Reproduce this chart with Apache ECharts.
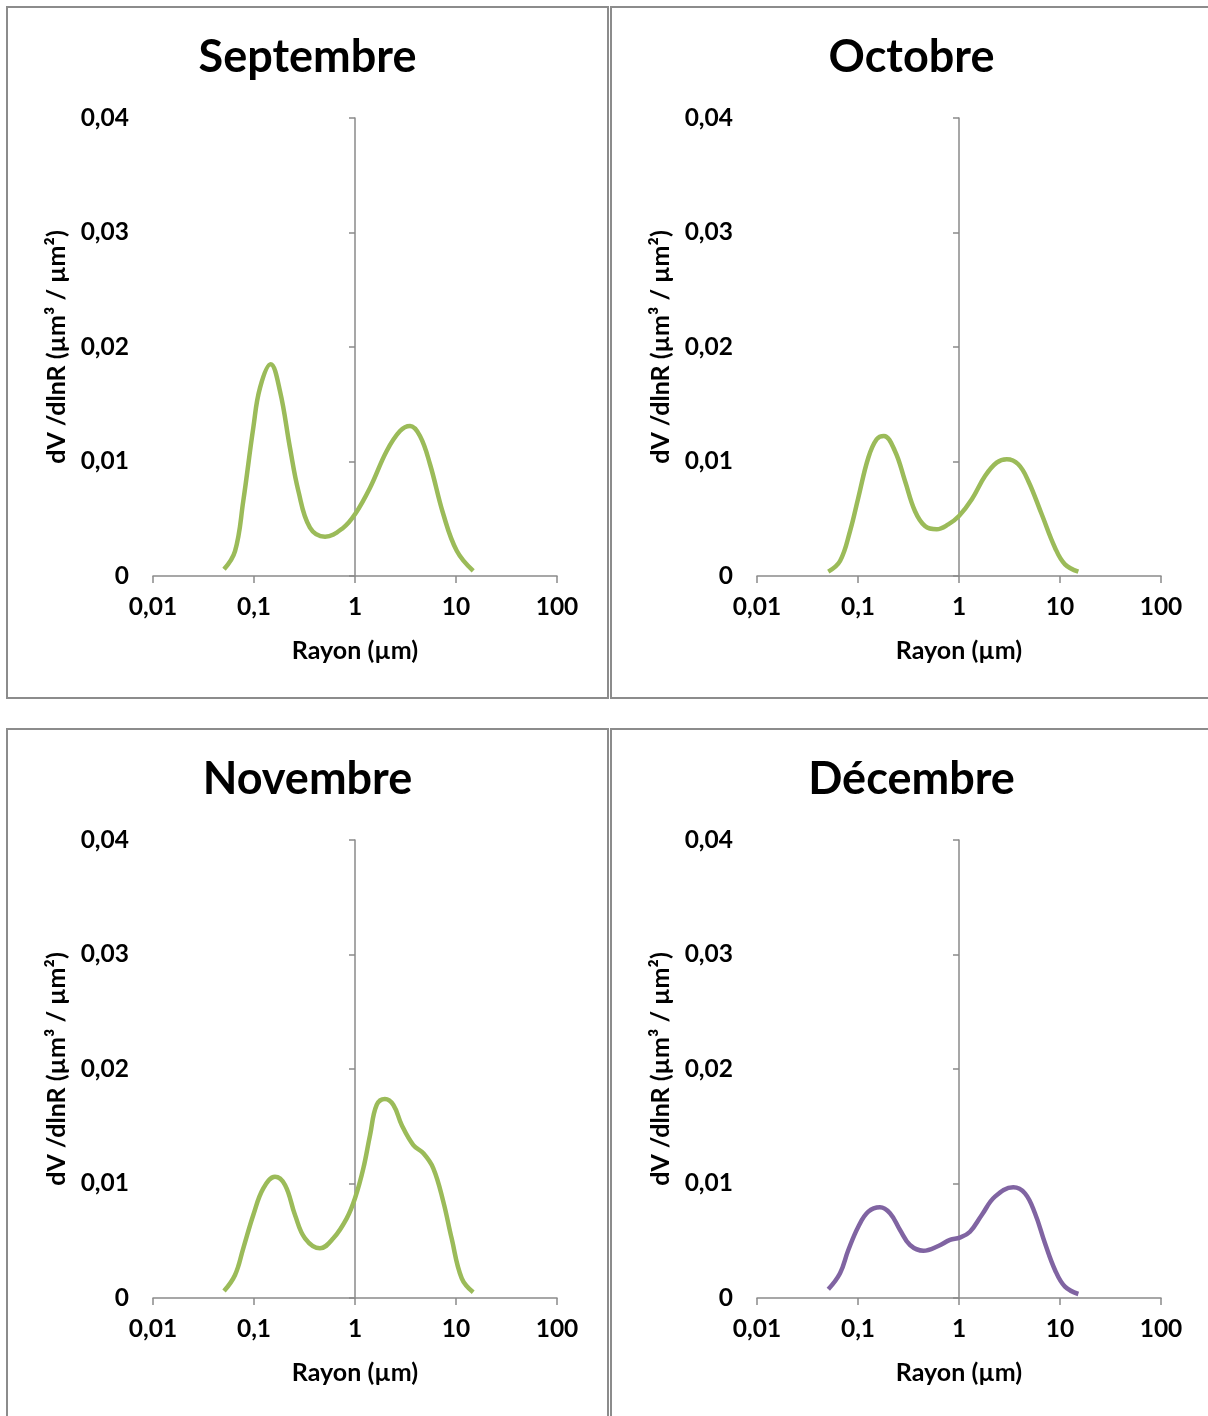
<!DOCTYPE html>
<html>
<head>
<meta charset="utf-8">
<script src="https://cdn.jsdelivr.net/npm/echarts@6/dist/echarts.min.js"></script>
<style>
  html, body { margin: 0; padding: 0; background: #fff; width: 1208px; height: 1416px; overflow: hidden; }
  .panel { position: absolute; box-sizing: border-box; border: 2px solid #8c8c8c; background: #fff; }
</style>
</head>
<body>
<div id="p0" class="panel" style="left:6px;top:6px;width:603px;height:693px;"></div>
<div id="p1" class="panel" style="left:610px;top:6px;width:603px;height:693px;"></div>
<div id="p2" class="panel" style="left:6px;top:728px;width:603px;height:693px;"></div>
<div id="p3" class="panel" style="left:610px;top:728px;width:603px;height:693px;"></div>
<script>
// ---- data ----
const titles = ['Septembre', 'Octobre', 'Novembre', 'Décembre'];
const xTickLabels = ['0,01', '0,1', '1', '10', '100'];
const yTickLabels = ['0', '0,01', '0,02', '0,03', '0,04'];
const xAxisName = 'Rayon (µm)';
const yAxisName = 'dV /dlnR (µm³ / µm²)';

const radiusSep = [0.0505, 0.0649, 0.0783, 0.0984, 0.1148, 0.1462, 0.1807, 0.227, 0.275, 0.358, 0.505, 0.766, 1.0, 1.409, 2.06, 2.79, 3.51, 4.40, 5.53, 7.49, 10.2, 14.8];
const valueSep  = [0.00059, 0.00218, 0.00655, 0.01295, 0.01645, 0.01849, 0.01616, 0.0112, 0.00742, 0.00422, 0.00343, 0.00422, 0.00539, 0.00771, 0.01092, 0.01266, 0.0131, 0.01223, 0.00976, 0.00539, 0.00218, 0.00044];

const radiusOct = [0.0508, 0.0664, 0.0834, 0.1007, 0.1265, 0.153, 0.1807, 0.232, 0.292, 0.366, 0.46, 0.601, 0.784, 1.0, 1.34, 1.81, 2.36, 2.97, 3.86, 4.85, 6.59, 8.92, 11.2, 15.2];
const valueOct  = [0.00038, 0.00131, 0.00393, 0.00684, 0.01033, 0.01194, 0.01223, 0.01092, 0.0083, 0.00568, 0.00437, 0.00408, 0.00451, 0.00524, 0.0067, 0.00873, 0.0099, 0.01019, 0.00976, 0.0083, 0.00539, 0.00247, 0.00102, 0.00038];

const radiusNov = [0.0505, 0.0649, 0.0783, 0.0984, 0.1236, 0.1614, 0.2028, 0.2547, 0.32, 0.45, 0.61, 0.828, 1.0, 1.21, 1.41, 1.64, 1.98, 2.40, 2.90, 3.78, 4.75, 5.96, 7.49, 9.05, 11.4, 14.8];
const valueNov  = [0.00061, 0.00201, 0.00434, 0.00725, 0.00958, 0.01059, 0.00987, 0.00725, 0.00521, 0.00434, 0.00521, 0.00696, 0.00871, 0.01133, 0.01424, 0.01686, 0.01738, 0.01686, 0.01511, 0.01336, 0.01264, 0.01133, 0.00841, 0.00521, 0.00172, 0.0005];

const radiusDec = [0.0508, 0.0664, 0.0802, 0.1007, 0.1265, 0.165, 0.2075, 0.2606, 0.327, 0.444, 0.624, 0.814, 1.02, 1.285, 1.68, 2.27, 3.45, 4.50, 5.65, 7.10, 8.92, 11.2, 15.2];
const valueDec  = [0.00076, 0.00216, 0.00419, 0.00623, 0.00754, 0.00792, 0.0074, 0.00594, 0.00463, 0.00413, 0.00454, 0.00507, 0.00527, 0.00579, 0.00725, 0.00885, 0.00967, 0.00914, 0.0074, 0.00478, 0.00245, 0.00099, 0.00035];

const radii = [radiusSep, radiusOct, radiusNov, radiusDec];
const values = [valueSep, valueOct, valueNov, valueDec];
const colors = ['#9BBB59', '#9BBB59', '#9BBB59', '#8064A2'];

// ---- style ----
const FONT = 'Lato, "Open Sans", sans-serif';
const AXIS_COLOR = '#8a8a8a';
const GRID = { left: 145, top: 110, width: 404, height: 458 };

function fmtX(v) {
  const idx = Math.round(Math.log10(v)) + 2;
  return xTickLabels[idx] !== undefined ? xTickLabels[idx] : String(v);
}
function fmtY(v) {
  const idx = Math.round(v / 0.01);
  return yTickLabels[idx] !== undefined ? yTickLabels[idx] : String(v);
}

titles.forEach(function (t, i) {
  const chart = echarts.init(document.getElementById('p' + i), null, { renderer: 'canvas' });
  const data = radii[i].map(function (r, k) { return [r, values[i][k]]; });
  const labelStyle = { color: '#000', fontFamily: FONT, fontWeight: 'bold', fontSize: 24.5 };
  chart.setOption({
    animation: false,
    title: {
      text: t, left: 'center', top: 22,
      textStyle: { color: '#000', fontFamily: FONT, fontWeight: 'bold', fontSize: 45 }
    },
    grid: GRID,
    xAxis: {
      type: 'log', logBase: 10, min: 0.01, max: 100,
      name: xAxisName, nameLocation: 'middle', nameGap: 62,
      nameTextStyle: { color: '#000', fontFamily: FONT, fontWeight: 'bold', fontSize: 25 },
      axisLine: { show: true, onZero: false, lineStyle: { color: AXIS_COLOR, width: 1.5 } },
      axisTick: { show: true, length: 7, lineStyle: { color: AXIS_COLOR, width: 1.5 } },
      minorTick: { show: false },
      splitLine: { show: false },
      axisLabel: Object.assign({ margin: 19, formatter: fmtX }, labelStyle)
    },
    yAxis: [{
      type: 'value', min: 0, max: 0.04, interval: 0.01, position: 'left',
      name: yAxisName, nameLocation: 'middle', nameGap: 80, nameRotate: 90,
      nameTextStyle: { color: '#000', fontFamily: FONT, fontWeight: 'bold', fontSize: 25 },
      axisLine: { show: false }, axisTick: { show: false }, splitLine: { show: false },
      axisLabel: Object.assign({ margin: 24, formatter: fmtY }, labelStyle)
    }, {
      // y axis line crossing the x axis at radius = 1
      type: 'value', min: 0, max: 0.04, interval: 0.01, position: 'left',
      offset: -GRID.width * (Math.log10(1) - Math.log10(0.01)) / (Math.log10(100) - Math.log10(0.01)),
      axisLine: { show: true, onZero: false, lineStyle: { color: AXIS_COLOR, width: 1.5 } },
      axisTick: { show: true, inside: false, length: 6, lineStyle: { color: AXIS_COLOR, width: 1.5 } },
      axisLabel: { show: false }, splitLine: { show: false }
    }],
    series: [{
      type: 'line', data: data, smooth: 0.4, showSymbol: false, symbol: 'none',
      lineStyle: { color: colors[i], width: 4.5 },
      clip: false
    }]
  });
});
</script>
</body>
</html>
